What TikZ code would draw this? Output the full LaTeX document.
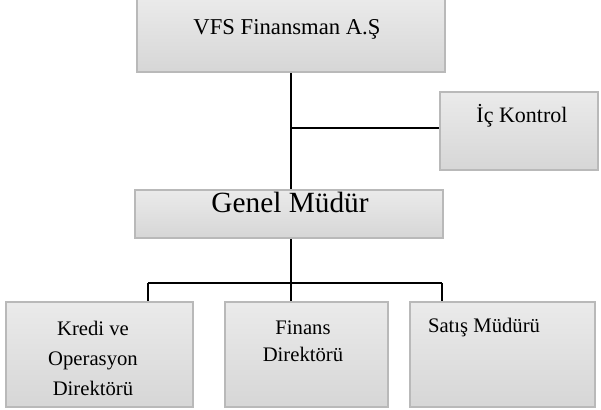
\documentclass[tikz,border=0pt]{standalone}
\usepackage{fontspec}
\setmainfont{Liberation Serif}
\usetikzlibrary{fit}
\tikzset{
  box/.style={draw=gray!55, line width=1.3pt, top color=gray!16, bottom color=gray!32, inner sep=0pt},
  conn/.style={line width=1.1pt, black},
  lbl/.style={inner sep=0pt, anchor=base, align=center}
}
\begin{document}
\begin{tikzpicture}[x=0.75pt, y=-0.75pt]
\useasboundingbox (0,0) rectangle (601,410);
% boxes
\node[box, fit={(137,-2) (445,72)}] (top) {};
\node[box, fit={(440,92) (598,170)}] (ic) {};
\node[box, fit={(135,190) (443,238)}] (genel) {};
\node[box, fit={(6,302) (193,407)}] (kredi) {};
\node[box, fit={(225,302) (388,407)}] (finans) {};
\node[box, fit={(410,302) (595,407)}] (satis) {};
% labels
\node[lbl, font=\fontsize{17}{20}\selectfont] (ttop) at (287,35) {VFS Finansman A.Ş};
\node[lbl, font=\fontsize{16.5}{19}\selectfont] (tic) at (522,123) {İç Kontrol};
\node[lbl, font=\fontsize{22}{26}\selectfont] (tgenel) at (290,213) {Genel Müdür};
\node[lbl, font=\fontsize{15.5}{22.5}\selectfont] (tkredi) at (93,395) {Kredi ve\\Operasyon\\Direktörü};
\node[lbl, font=\fontsize{15.5}{20.5}\selectfont] (tfinans) at (303,362) {Finans\\Direktörü};
\node[lbl, font=\fontsize{15.5}{18}\selectfont] (tsatis) at (484,333) {Satış Müdürü};
% connectors
\coordinate (j1) at (291,128);
\coordinate (j2) at (291,283);
\coordinate (jl) at (148,283);
\coordinate (jr) at (442,283);
\draw[conn] (top.south -| j1) -- (genel.north -| j1);
\draw[conn] (j1) -- (ic.west |- j1);
\draw[conn] (genel.south -| j2) -- (j2);
\draw[conn] (jl) -- (jr);
\draw[conn] (jl) -- (kredi.north -| jl);
\draw[conn] (j2) -- (finans.north -| j2);
\draw[conn] (jr) -- (satis.north -| jr);
\end{tikzpicture}
\end{document}
